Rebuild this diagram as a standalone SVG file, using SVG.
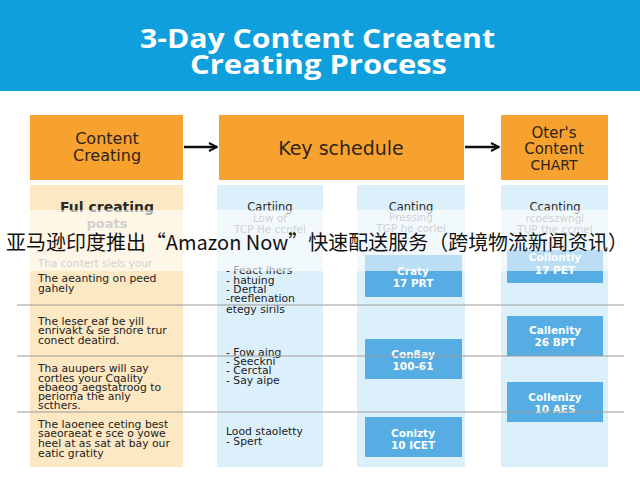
<svg xmlns="http://www.w3.org/2000/svg" width="640" height="480" viewBox="0 0 640 480">
<defs>
<marker id="arr" markerWidth="10" markerHeight="10" refX="9" refY="5" orient="auto" markerUnits="userSpaceOnUse">
<path d="M1,1 L9,5 L1,9" fill="none" stroke="#111" stroke-width="2"/>
</marker>
<style>
.hdr{fill:#f7a12f}
.beige{fill:#fde8c4}
.lb{fill:#dcf0fb}
.bb{fill:#55ade3}
.t{font-family:"DejaVu Sans","Liberation Sans",sans-serif}
.ht{font-family:"DejaVu Sans","Liberation Sans",sans-serif;fill:#2e2418;text-anchor:middle}
.dk{fill:#222;font-size:10.8px}
.gr{fill:#8a8a8a;font-size:10.5px}
.wt{fill:#fff;font-weight:bold;font-size:10.5px;text-anchor:middle}
.sep{stroke:#9a9a9a;stroke-width:1}
</style>
</defs>
<rect width="640" height="480" fill="#fff"/>
<g id="title">
<rect x="0" y="0" width="640" height="91" fill="#0e9fdc"/>
<text x="140" y="48" font-size="26" font-weight="bold" fill="#fff" textLength="355" lengthAdjust="spacingAndGlyphs" font-family="'Open Sans','Liberation Sans',sans-serif">3-Day Content Creatent</text>
<text x="190" y="74" font-size="26" font-weight="bold" fill="#fff" textLength="257" lengthAdjust="spacingAndGlyphs" font-family="'Open Sans','Liberation Sans',sans-serif">Creating Process</text>
</g>
<g id="connectors">
<line x1="184" y1="147" x2="217" y2="147" stroke="#111" stroke-width="2.5" marker-end="url(#arr)"/>
<line x1="465" y1="147" x2="499" y2="147" stroke="#111" stroke-width="2.5" marker-end="url(#arr)"/>
</g>
<g id="col-content">
<rect class="hdr" x="30" y="115" width="153" height="65"/>
<text class="ht" x="107" y="144" font-size="16">Content</text>
<text class="ht" x="107" y="161" font-size="16">Creating</text>
<rect class="beige" x="30" y="185" width="153" height="282"/>
<text class="t" x="107" y="212" font-size="14" font-weight="bold" fill="#2a2a2a" text-anchor="middle">Ful creating</text>
<text class="t" x="107" y="228" font-size="13" font-weight="bold" fill="#8a8a8a" text-anchor="middle">poats</text>
<text class="t gr" x="38" y="267">Tha contert siels your</text>
<text class="t dk" x="38" y="282">The aeanting on peed</text>
<text class="t dk" x="38" y="292">gahely</text>
<text class="t dk" x="38" y="325">The leser eaf be yill</text>
<text class="t dk" x="38" y="334" font-size="8.5">enrivakt &amp; se snore trur</text>
<text class="t dk" x="38" y="344">conect deatird.</text>
<text class="t dk" x="38" y="372">Tha auupers will say</text>
<text class="t dk" x="38" y="382">cortles your Cqality</text>
<text class="t dk" x="38" y="391" font-size="9.5">ebaeog aegstatroog to</text>
<text class="t dk" x="38" y="400">periorna the anly</text>
<text class="t dk" x="38" y="409">scthers.</text>
<text class="t dk" x="38" y="428">The laoenee ceting best</text>
<text class="t dk" x="38" y="437" font-size="8">saeoraeat e sce  o  yowe</text>
<text class="t dk" x="38" y="447">heel at as sat at bay our</text>
<text class="t dk" x="38" y="457">eatic gratity</text>
</g>
<g id="col-key">
<rect class="hdr" x="219" y="115" width="245" height="65"/>
<text class="ht" x="341" y="155" font-size="19">Key schedule</text>
<rect class="lb" x="217" y="185" width="106" height="282"/>
<text class="t" x="270" y="211" font-size="11.5" fill="#2a2a2a" text-anchor="middle">Cartiing</text>
<text class="t gr" x="270" y="222" text-anchor="middle">Low of</text>
<text class="t gr" x="270" y="233" text-anchor="middle">TCP He ccnfel</text>
<text class="t dk" x="226" y="274" font-size="10.5">- Feact ihers</text>
<text class="t dk" x="226" y="284" font-size="10.5">- hatuing</text>
<text class="t dk" x="226" y="293" font-size="10.5">- Dertal</text>
<text class="t dk" x="226" y="302" font-size="10.5">-reeflenation</text>
<text class="t dk" x="226" y="313" font-size="10.5">etegy sirils</text>
<text class="t dk" x="226" y="356" font-size="11">- Fow aing</text>
<text class="t dk" x="226" y="365" font-size="9.5">- Seeckni</text>
<text class="t dk" x="226" y="374" font-size="9.5">- Cerctal</text>
<text class="t dk" x="226" y="384" font-size="11">- Say aipe</text>
<text class="t dk" x="226" y="435" font-size="11">Lood staoletty</text>
<text class="t dk" x="226" y="445" font-size="10">- Spert</text>
<rect class="lb" x="357" y="185" width="108" height="282"/>
<text class="t" x="411" y="211" font-size="11.5" fill="#2a2a2a" text-anchor="middle">Canting</text>
<text class="t gr" x="411" y="221" text-anchor="middle">Pressing</text>
<text class="t gr" x="411" y="232" text-anchor="middle">TGP he corlel</text>
<rect class="bb" x="365" y="255" width="97" height="42"/>
<text class="t wt" x="413" y="275">Craty</text>
<text class="t wt" x="413" y="287">17 PRT</text>
<rect class="bb" x="365" y="339" width="97" height="40"/>
<text class="t wt" x="413" y="358">Conßay</text>
<text class="t wt" x="413" y="370">100-61</text>
<rect class="bb" x="365" y="417" width="97" height="40"/>
<text class="t wt" x="413" y="437">Conizty</text>
<text class="t wt" x="413" y="449">10 ICET</text>
</g>
<g id="col-other">
<rect class="hdr" x="501" y="115" width="107" height="65"/>
<text class="ht" x="554" y="138" font-size="15">Oter's</text>
<text class="ht" x="554" y="154" font-size="15">Content</text>
<text class="ht" x="554" y="170" font-size="14">CHART</text>
<rect class="lb" x="501" y="185" width="107" height="282"/>
<text class="t" x="555" y="211" font-size="11.5" fill="#2a2a2a" text-anchor="middle">Ccanting</text>
<text class="t gr" x="555" y="222" text-anchor="middle">rcoeszwngl</text>
<text class="t gr" x="555" y="233" text-anchor="middle">TUP the ccmel</text>
<rect class="bb" x="507" y="250" width="96" height="33"/>
<text class="t wt" x="555" y="261">Collontiy</text>
<text class="t wt" x="555" y="274">17 PET</text>
<rect class="bb" x="507" y="316" width="96" height="40"/>
<text class="t wt" x="555" y="334">Callenity</text>
<text class="t wt" x="555" y="346">26 BPT</text>
<rect class="bb" x="507" y="382" width="96" height="40"/>
<text class="t wt" x="555" y="401">Collenizy</text>
<text class="t wt" x="555" y="413">10 AES</text>
</g>
<g id="separators">
<line class="sep" x1="17" y1="305" x2="624" y2="305"/>
<line class="sep" x1="17" y1="356" x2="624" y2="356"/>
<line class="sep" x1="17" y1="412" x2="624" y2="412"/>
</g>
<g id="caption">
<rect x="0" y="210" width="640" height="61" fill="#fff" fill-opacity="0.6"/>
<text x="6" y="250" font-family="'Noto Sans CJK SC','Noto Sans',sans-serif" font-size="20.5" fill="#111" textLength="622" lengthAdjust="spacingAndGlyphs">亚马逊印度推出“Amazon Now”快速配送服务（跨境物流新闻资讯）</text>
</g>
</svg>
